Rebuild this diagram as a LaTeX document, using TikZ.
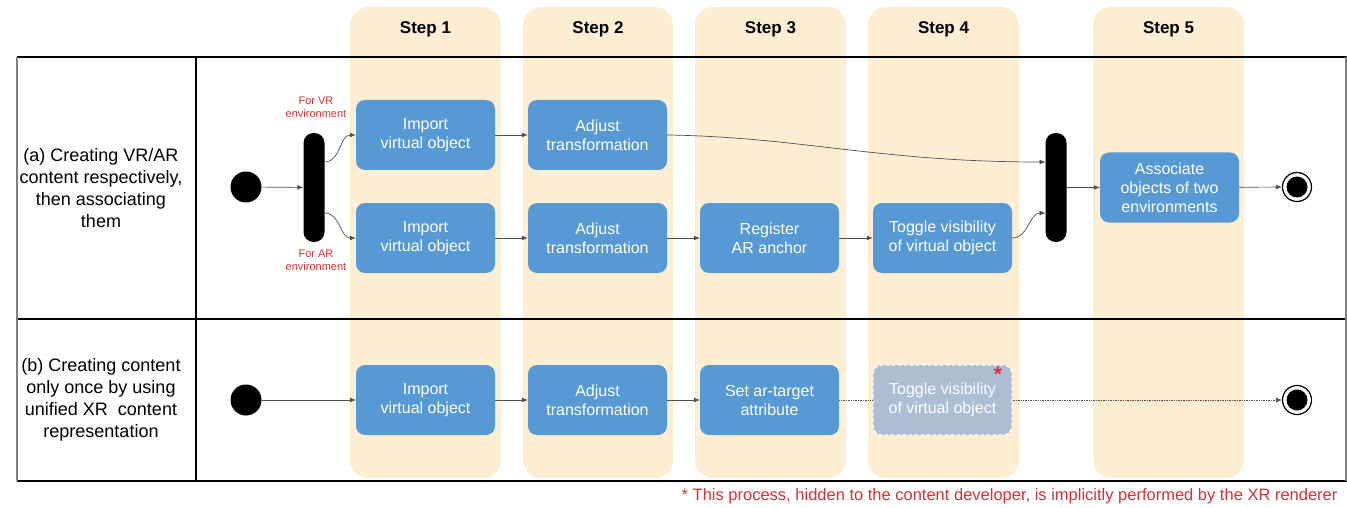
\documentclass[tikz,border=0pt]{standalone}
\usepackage{fontspec}
\setmainfont{Liberation Sans}
\usetikzlibrary{arrows.meta}
\definecolor{stepbg}{RGB}{253,238,211}
\definecolor{actblue}{RGB}{86,153,212}
\definecolor{hidblue}{RGB}{172,190,211}
\definecolor{notered}{RGB}{208,50,58}
\definecolor{wire}{RGB}{80,80,80}

\begin{document}
\begin{tikzpicture}[x=1pt,y=-1pt,
    lane/.style={fill=stepbg,rounded corners=18pt},
    steptitle/.style={font=\fontsize{17}{20}\selectfont\bfseries},
    rowtitle/.style={align=center,font=\fontsize{18}{22}\selectfont},
    act/.style={fill=actblue,rounded corners=9pt,minimum width=139pt,minimum height=70pt,inner sep=0pt,
        text=white,align=center,font=\fontsize{16}{19}\selectfont},
    hiddenact/.style={act,fill=hidblue,draw=white,dashed,line width=1.2pt},
    bar/.style={fill=black,rounded corners=10pt,minimum width=21pt,minimum height=109pt,inner sep=0pt},
    startstate/.style={circle,fill=black,minimum size=31pt,inner sep=0pt},
    endstate/.style={circle,draw,fill=white,line width=1.2pt,minimum size=29pt,inner sep=0pt},
    envnote/.style={text=notered,align=center,font=\fontsize{11}{13}\selectfont},
    flow/.style={draw=wire,line width=0.7pt,-{Latex[length=6pt,width=5pt]}},
    hiddenflow/.style={draw=wire,line width=0.7pt,densely dotted}]

    \useasboundingbox (0,0) rectangle (1347,508);

    \fill[lane] (350,7) rectangle (501,478);
    \fill[lane] (523,7) rectangle (673,478);
    \fill[lane] (695,7) rectangle (846,478);
    \fill[lane] (868,7) rectangle (1019,478);
    \fill[lane] (1093,7) rectangle (1244,478);

    \node[steptitle] (step1) at (425.5,29) {Step 1};
    \node[steptitle] (step2) at (598,29) {Step 2};
    \node[steptitle] (step3) at (770.5,29) {Step 3};
    \node[steptitle] (step4) at (943.5,29) {Step 4};
    \node[steptitle] (step5) at (1168.5,29) {Step 5};

    \draw[line width=1.3pt] (17,57) -- (1347,57) (17,319) -- (1347,319) (17,481) -- (1347,481);
    \draw[line width=1.3pt] (196,57) -- (196,481);
    \draw[gray,line width=2pt] (17,57) -- (17,481) (1346,57) -- (1346,481);

    \node[rowtitle] (rowa) at (101,188) {(a) Creating VR/AR\\content respectively,\\then associating\\them};
    \node[rowtitle] (rowb) at (101,400) {(b) Creating content\\only once by using\\unified XR\ \ content\\representation};

    \node[startstate] (starta) at (246,187) {};
    \node[startstate] (startb) at (246,400) {};
    \node[bar] (fork) at (314,187.5) {};
    \node[bar] (join) at (1056,187.5) {};
    \node[endstate] (enda) at (1297,187) {};
    \node[endstate] (endb) at (1297,400) {};
    \fill (enda) circle (10.5pt);
    \fill (endb) circle (10.5pt);

    \node[envnote] (vrnote) at (316,107) {For VR\\environment};
    \node[envnote] (arnote) at (316,260.5) {For AR\\environment};

    \node[act] (impa) at (425.5,135) {Import\\virtual object};
    \node[act] (adja) at (597.5,135) {Adjust\\transformation};
    \node[act] (impb) at (425.5,238) {Import\\virtual object};
    \node[act] (adjb) at (597.5,238) {Adjust\\transformation};
    \node[act] (regb) at (769.5,238) {Register\\AR anchor};
    \node[act] (togb) at (942.5,238) {Toggle visibility\\of virtual object};
    \node[act] (assoc) at (1169.5,187.5) {Associate\\objects of two\\environments};
    \node[act] (impc) at (425.5,400) {Import\\virtual object};
    \node[act] (adjc) at (597.5,400) {Adjust\\transformation};
    \node[act] (setc) at (769.5,400) {Set ar-target\\attribute};
    \node[hiddenact] (togc) at (942.5,400) {Toggle visibility\\of virtual object};
    \node[text=notered,font=\fontsize{21}{21}\selectfont\bfseries] (star) at (998,374) {*};

    \coordinate (forkvr) at (324.5,162);
    \coordinate (forkar) at (324.5,213);
    \coordinate (joinvr) at (1045.5,162);
    \coordinate (joinar) at (1045.5,213);

    \draw[flow] (starta) -- (fork);
    \draw[flow] (forkvr) to[out=0,in=180] (impa.west);
    \draw[flow] (forkar) to[out=0,in=180] (impb.west);
    \draw[flow] (impa) -- (adja);
    \draw[flow] (adja.east) .. controls (800,137) and (880,162) .. (joinvr);
    \draw[flow] (impb) -- (adjb);
    \draw[flow] (adjb) -- (regb);
    \draw[flow] (regb) -- (togb);
    \draw[flow] (togb.east) to[out=0,in=180] (joinar);
    \draw[flow] (join) -- (assoc);
    \draw[flow] (assoc) -- (enda);

    \draw[flow] (startb) -- (impc);
    \draw[flow] (impc) -- (adjc);
    \draw[flow] (adjc) -- (setc);
    \draw[hiddenflow] (setc) -- (togc);
    \draw[hiddenflow,-{Latex[length=6pt,width=5pt]}] (togc) -- (endb);

    \node[anchor=east,text=notered,font=\fontsize{16.5}{19}\selectfont] (footnote) at (1341,496)
        {* This process, hidden to the content developer, is implicitly performed by the XR renderer};
\end{tikzpicture}
\end{document}
